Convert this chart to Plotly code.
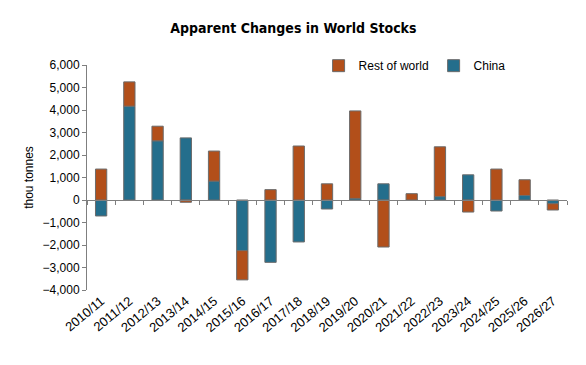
import plotly.graph_objects as go

seasons = ["2010/11", "2011/12", "2012/13", "2013/14", "2014/15", "2015/16", "2016/17",
           "2017/18", "2018/19", "2019/20", "2020/21", "2021/22", "2022/23", "2023/24",
           "2024/25", "2025/26", "2026/27"]
china = [-710, 4170, 2630, 2760, 840, -2250, -2770, -1865, -400, 70, 720, 0, 150, 1120, -490, 200, -165]
rest_of_world = [1375, 1080, 650, -100, 1335, -1300, 460, 2400, 720, 3890, -2090, 280, 2215, -535, 1375, 700, -280]
y_ticks = [-4000, -3000, -2000, -1000, 0, 1000, 2000, 3000, 4000, 5000, 6000]

font = "Liberation Sans, Arial, sans-serif"
line_col = "#7f7f7f"
x_range = [-0.5, len(seasons) - 0.5]

fig = go.Figure()
fig.add_trace(go.Bar(x=seasons, y=china, name="China",
                     marker=dict(color="#246e8c", line=dict(color="#6b6b6b", width=1))))
fig.add_trace(go.Bar(x=seasons, y=rest_of_world, name="Rest of world",
                     marker=dict(color="#b24f1a", line=dict(color="#6b6b6b", width=1))))
# invisible trace carrying the tick-mark axis at zero
fig.add_trace(go.Scatter(x=seasons, y=[None] * len(seasons), xaxis="x2", showlegend=False,
                         hoverinfo="skip"))

fig.update_layout(
    width=586, height=365,
    barmode="relative", bargap=0.6,
    plot_bgcolor="white", paper_bgcolor="white",
    margin=dict(l=79, r=27, t=57, b=83, autoexpand=False),
    font=dict(family=font, size=11, color="#000000"),
    title=dict(text="<b>Apparent Changes in World Stocks</b>",
               x=0.487, xref="container", xanchor="center", y=0.945, yanchor="middle",
               font=dict(family="Liberation Sans Narrow, DejaVu Sans Condensed, sans-serif",
                         size=14, color="#000000")),
    legend=dict(orientation="h", x=0.53, xref="container", xanchor="left",
                y=0.842, yref="container", yanchor="middle",
                traceorder="reversed", font=dict(size=12), itemwidth=30,
                bgcolor="rgba(0,0,0,0)"),
    xaxis=dict(type="category", range=x_range, showline=False, ticks="", showgrid=False,
               automargin=False, tickangle=-40, tickfont=dict(size=13)),
    xaxis2=dict(type="category", range=x_range, overlaying="x", anchor="free", position=0.4,
                showline=True, linecolor=line_col, linewidth=1, automargin=False,
                ticks="outside", tickson="boundaries", ticklen=4, tickcolor=line_col,
                showticklabels=False, showgrid=False),
    yaxis=dict(range=[-4000, 6000], tickvals=y_ticks, tickformat=",", automargin=False,
               showline=True, linecolor=line_col, linewidth=1,
               ticks="outside", ticklen=4, tickcolor=line_col,
               showgrid=False, zeroline=False, tickfont=dict(size=12),
               title=dict(text="thou tonnes", font=dict(size=12), standoff=6)),
)

fig.write_html("out.html")
